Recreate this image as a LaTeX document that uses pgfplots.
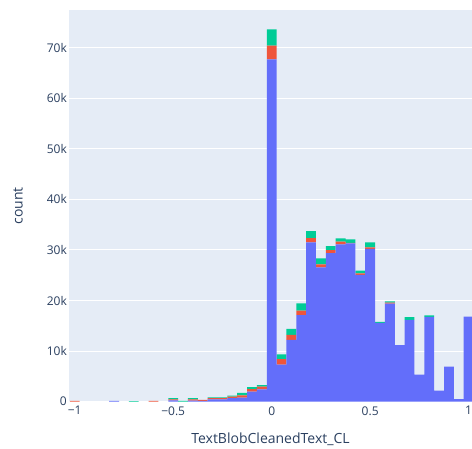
\documentclass[border=0pt]{standalone}
\usepackage{fontspec}
\setmainfont{Open Sans}
\usepackage{pgfplots}
\pgfplotsset{compat=1.18}
\usepackage{pgfplotstable}
\definecolor{plotbg}{HTML}{E5ECF6}
\definecolor{fontc}{HTML}{2A3F5F}
\definecolor{cblue}{HTML}{636EFA}
\definecolor{cred}{HTML}{EF553B}
\definecolor{cgreen}{HTML}{00CC96}

\pgfplotstableread{
x blue red green
-1.00 0 150 0
-0.95 0 0 0
-0.90 0 0 0
-0.85 0 0 0
-0.80 150 0 0
-0.75 0 0 0
-0.70 0 0 130
-0.65 0 0 0
-0.60 0 150 0
-0.55 0 0 0
-0.50 280 200 250
-0.45 0 0 150
-0.40 200 270 260
-0.35 150 200 0
-0.30 450 280 140
-0.25 470 260 140
-0.20 730 260 200
-0.15 790 480 450
-0.10 1980 530 390
-0.05 2450 520 330
0.00 67700 2700 3240
0.05 7310 1130 930
0.10 12200 1000 1180
0.15 17140 850 1460
0.20 31510 850 1390
0.25 26570 590 1190
0.30 29400 590 790
0.35 31120 510 670
0.40 31300 100 700
0.45 25100 280 520
0.50 30200 330 970
0.55 15600 0 200
0.60 19370 230 250
0.65 11200 0 0
0.70 16200 0 500
0.75 5340 0 0
0.80 16750 0 330
0.85 2170 0 0
0.90 6920 0 0
0.95 530 0 0
1.00 16800 0 0
}\hist

\begin{document}
\begin{tikzpicture}
\useasboundingbox (-69pt,-47.3pt) rectangle (403pt,401.7pt);
\begin{axis}[
  at={(0pt,0pt)}, anchor=south west,
  scale only axis, width=403pt, height=391.7pt,
  xmin=-1.029, xmax=1.017, ymin=0, ymax=77450,
  axis background/.style={fill=plotbg},
  axis line style={draw=none},
  major tick length=0pt,
  scaled y ticks=false, scaled x ticks=false,
  ytick={0,10000,20000,30000,40000,50000,60000,70000},
  yticklabels={0,10k,20k,30k,40k,50k,60k,70k},
  xtick={-1,-0.5,0,0.5,1},
  xticklabels={−1,−0.5,0,0.5,1},
  ymajorgrids,
  grid style={white, line width=1pt},
  tick label style={font=\fontsize{12}{14}\selectfont, text=fontc},
  yticklabel style={inner sep=0pt, xshift=-2pt, anchor=east},
  xticklabel style={inner sep=0pt, anchor=north, yshift=-4.5pt},
  xlabel={TextBlobCleanedText\_CL},
  ylabel={count},
  label style={font=\fontsize{14}{16}\selectfont, text=fontc},
  xlabel style={at={(axis description cs:0.5,0)}, anchor=base, inner sep=0pt, yshift=-42.3pt},
  ylabel style={at={(axis description cs:0,0.5)}, anchor=base, inner sep=0pt, yshift=46.3pt},
  ybar stacked, bar width=0.05,
]
\addplot[fill=cblue, draw=none] table[x=x, y=blue] {\hist};
\addplot[fill=cred, draw=none] table[x=x, y=red] {\hist};
\addplot[fill=cgreen, draw=none] table[x=x, y=green] {\hist};
\end{axis}
\end{tikzpicture}
\end{document}
